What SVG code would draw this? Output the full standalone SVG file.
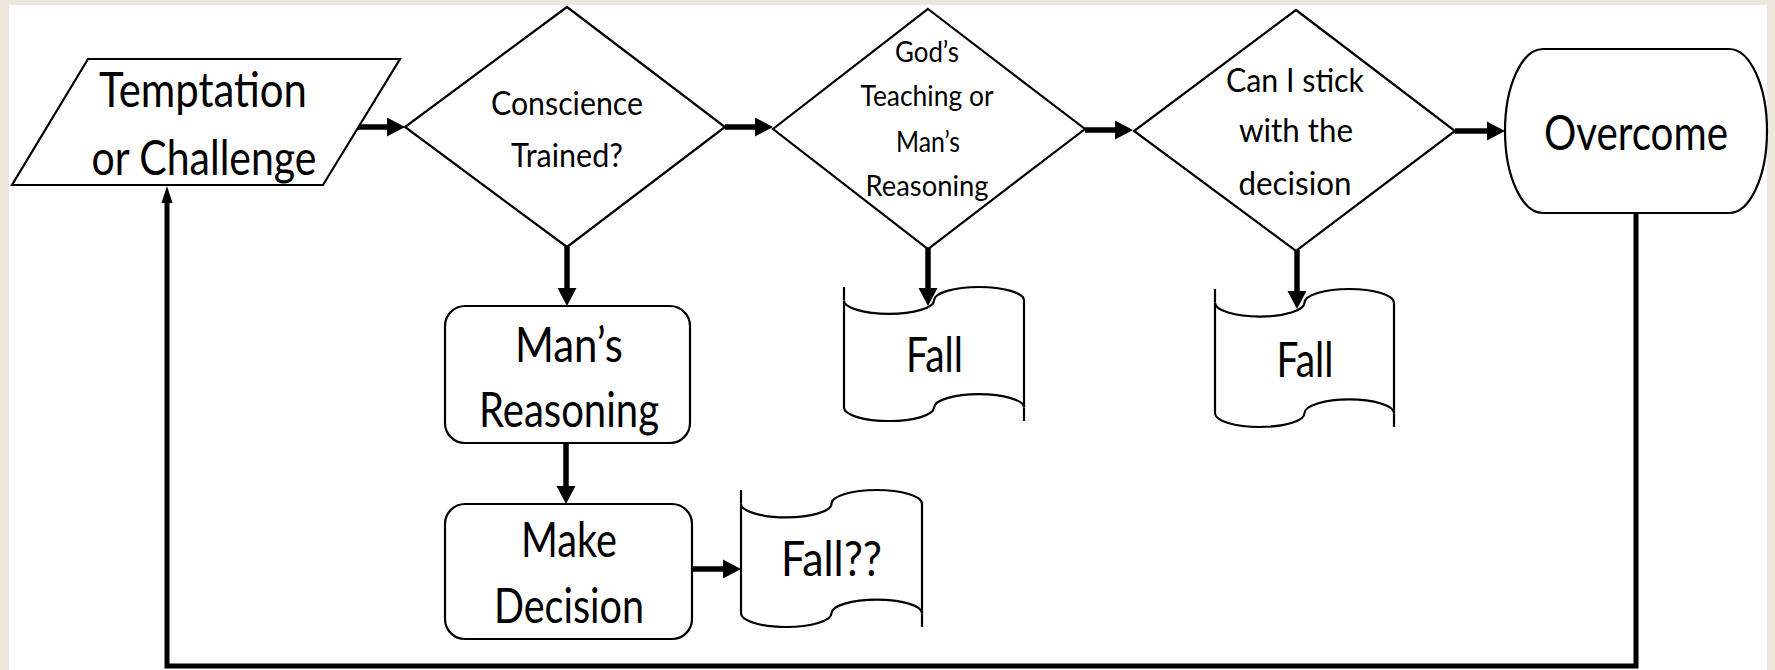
<svg xmlns="http://www.w3.org/2000/svg" width="1775" height="670" viewBox="0 0 1775 670">
  <style>
    .shape { fill: #ffffff; stroke: #000000; stroke-width: 2.2; stroke-linejoin: miter; }
    .txt { font-family: Lato, "Liberation Sans", sans-serif; fill: #000000; text-anchor: middle; }
    .big { font-size: 49px; }
    .mid { font-size: 33.5px; }
    .small { font-size: 28px; }
    .conn { fill: none; stroke: #000000; stroke-width: 5.5; stroke-linejoin: miter; }
    .loop { fill: none; stroke: #000000; stroke-width: 5; stroke-linejoin: miter; }
  </style>
  <defs>
    <marker id="head" markerUnits="userSpaceOnUse" markerWidth="18" markerHeight="19" refX="0" refY="9.5" orient="auto" overflow="visible">
      <path d="M0,0 L18,9.5 L0,19 z" fill="#000000"/>
    </marker>
    <marker id="headThin" markerUnits="userSpaceOnUse" markerWidth="17" markerHeight="11" refX="0" refY="5.5" orient="auto" overflow="visible">
      <path d="M0,0 L17,5.5 L0,11 z" fill="#000000"/>
    </marker>
  </defs>

  <!-- page background and white panel -->
  <rect x="0" y="0" width="1775" height="670" fill="#EDE6DD"/>
  <rect x="9" y="5" width="1758" height="665" fill="#ffffff"/>

  <!-- connectors -->
  <g id="connectors">
    <path class="conn" d="M358,127 H387" marker-end="url(#head)"/>
    <path class="conn" d="M725,127 H755" marker-end="url(#head)"/>
    <path class="conn" d="M1085,130 H1115" marker-end="url(#head)"/>
    <path class="conn" d="M1455,131 H1487" marker-end="url(#head)"/>
    <path class="conn" d="M567,247 V288" marker-end="url(#head)"/>
    <path class="conn" d="M566,443 V486" marker-end="url(#head)"/>
    <path class="conn" d="M692,569 H723" marker-end="url(#head)"/>
    <path class="conn" d="M928,248 V288" marker-end="url(#head)"/>
    <path class="conn" d="M1297,250 V291" marker-end="url(#head)"/>
    <path class="loop" d="M1636,213 V666 H167 V203" marker-end="url(#headThin)"/>
  </g>

  <!-- input: temptation -->
  <g id="temptation">
    <polygon class="shape" points="88,59 400,59 323,185 12,185"/>
    <text class="txt big" x="203" y="107" textLength="208" lengthAdjust="spacingAndGlyphs">Temptation</text>
    <text class="txt big" x="204" y="175" textLength="225" lengthAdjust="spacingAndGlyphs">or Challenge</text>
  </g>

  <!-- decision: conscience -->
  <g id="conscience">
    <polygon class="shape" points="567,7 725,127 567,247 405,127"/>
    <text class="txt mid" x="567" y="115" textLength="152" lengthAdjust="spacingAndGlyphs">Conscience</text>
    <text class="txt mid" x="567" y="167" textLength="112" lengthAdjust="spacingAndGlyphs">Trained?</text>
  </g>

  <!-- decision: source of guidance -->
  <g id="guidance">
    <polygon class="shape" points="928,9 1085,129 928,249 773,129"/>
    <text class="txt small" x="927" y="62" textLength="64" lengthAdjust="spacingAndGlyphs">God’s</text>
    <text class="txt small" x="927" y="106" textLength="133" lengthAdjust="spacingAndGlyphs">Teaching or</text>
    <text class="txt small" x="928" y="152" textLength="64" lengthAdjust="spacingAndGlyphs">Man’s</text>
    <text class="txt small" x="927" y="196" textLength="123" lengthAdjust="spacingAndGlyphs">Reasoning</text>
  </g>

  <!-- decision: commitment -->
  <g id="commitment">
    <polygon class="shape" points="1296,10 1455,131 1296,251 1134,131"/>
    <text class="txt mid" x="1295" y="92" textLength="138" lengthAdjust="spacingAndGlyphs">Can I stick</text>
    <text class="txt mid" x="1296" y="142" textLength="114" lengthAdjust="spacingAndGlyphs">with the</text>
    <text class="txt mid" x="1295" y="195" textLength="113" lengthAdjust="spacingAndGlyphs">decision</text>
  </g>

  <!-- terminator: overcome -->
  <g id="overcome">
    <rect class="shape" x="1505" y="49" width="262" height="164" rx="38" ry="82"/>
    <text class="txt big" x="1636" y="150" textLength="184" lengthAdjust="spacingAndGlyphs">Overcome</text>
  </g>

  <!-- process: man's reasoning -->
  <g id="mans-reasoning">
    <rect class="shape" x="445" y="306" width="245" height="137" rx="20" ry="20"/>
    <text class="txt big" x="569" y="362" textLength="108" lengthAdjust="spacingAndGlyphs">Man’s</text>
    <text class="txt big" x="569" y="427" textLength="180" lengthAdjust="spacingAndGlyphs">Reasoning</text>
  </g>

  <!-- process: make decision -->
  <g id="make-decision">
    <rect class="shape" x="445" y="504" width="247" height="135" rx="20" ry="20"/>
    <text class="txt big" x="569" y="557" textLength="96" lengthAdjust="spacingAndGlyphs">Make</text>
    <text class="txt big" x="569" y="623" textLength="150" lengthAdjust="spacingAndGlyphs">Decision</text>
  </g>

  <!-- punched tape: fall (guidance) -->
  <g id="fall-guidance">
    <path class="shape" d="M844,300.4 A45,13.4 0 0 0 934,300.4 A45,13.4 0 0 1 1024,300.4 L1024,407.6 A45,13.4 0 0 0 934,407.6 A45,13.4 0 0 1 844,407.6 Z"/>
    <path class="shape" fill="none" d="M844,287 V300.4 M1024,407.6 V421"/>
    <text class="txt big" x="934.5" y="372" textLength="57" lengthAdjust="spacingAndGlyphs">Fall</text>
  </g>

  <!-- punched tape: fall (commitment) -->
  <g id="fall-commitment">
    <path class="shape" d="M1215,302.8 A44.75,13.8 0 0 0 1304.5,302.8 A44.75,13.8 0 0 1 1394,302.8 L1394,413.2 A44.75,13.8 0 0 0 1304.5,413.2 A44.75,13.8 0 0 1 1215,413.2 Z"/>
    <path class="shape" fill="none" d="M1215,289 V302.8 M1394,413.2 V427"/>
    <text class="txt big" x="1305" y="377" textLength="57" lengthAdjust="spacingAndGlyphs">Fall</text>
  </g>

  <!-- punched tape: fall?? (decision) -->
  <g id="fall-decision">
    <path class="shape" d="M741,503.7 A45.25,13.7 0 0 0 831.5,503.7 A45.25,13.7 0 0 1 922,503.7 L922,613.3 A45.25,13.7 0 0 0 831.5,613.3 A45.25,13.7 0 0 1 741,613.3 Z"/>
    <path class="shape" fill="none" d="M741,490 V503.7 M922,613.3 V627"/>
    <text class="txt big" x="831.5" y="576" textLength="101" lengthAdjust="spacingAndGlyphs">Fall??</text>
  </g>
</svg>
